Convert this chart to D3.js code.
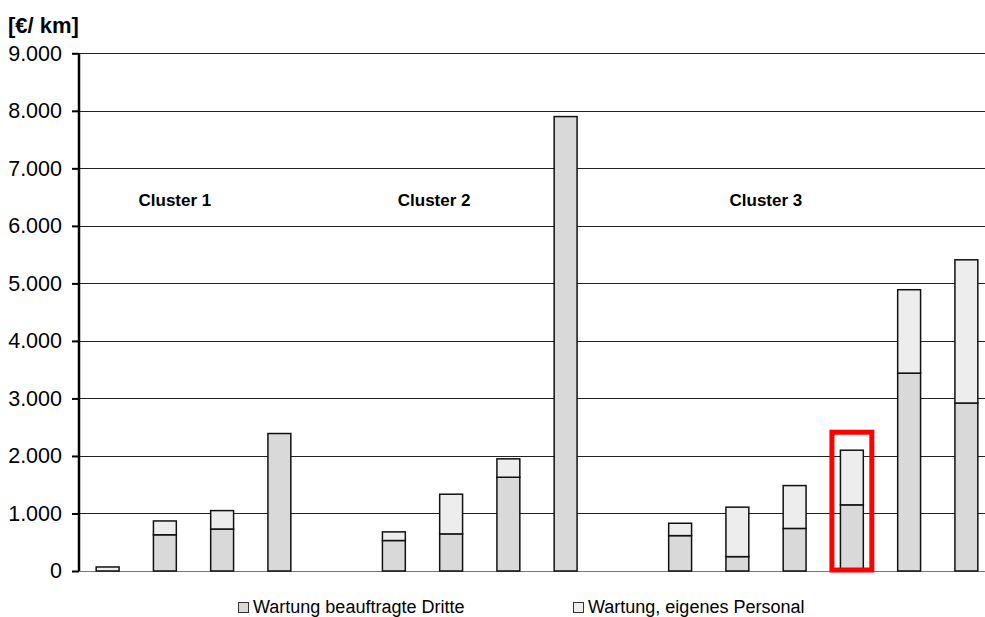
<!DOCTYPE html>
<html>
<head>
<meta charset="utf-8">
<script src="https://cdn.jsdelivr.net/npm/d3@7/dist/d3.min.js"></script>
<style>
  html, body { margin: 0; padding: 0; background: #fff; }
  svg { display: block; font-family: Arial, "Liberation Sans", sans-serif; }
</style>
</head>
<body>
<svg id="chart" width="985" height="617"></svg>
<script>
// ---- data ----
const categories = ["1a","1b","1c","1d","gap1","2a","2b","2c","2d","gap2","3a","3b","3c","3d","3e","3f"];
const beauftragteDritte = [0, 630, 730, 2390, null, 530, 645, 1630, 7900, null, 615, 250, 740, 1150, 3440, 2920];
const eigenesPersonal   = [70, 240, 320, 0, null, 150, 690, 320, 0, null, 215, 860, 745, 950, 1450, 2490];
const seriesNames = ["Wartung beauftragte Dritte", "Wartung, eigenes Personal"];
const yTicks = [0,1000,2000,3000,4000,5000,6000,7000,8000,9000];
const clusterNames = ["Cluster 1", "Cluster 2", "Cluster 3"];
const clusterAnchors = ["1b", "2b", "3b"];
const highlighted = "3d";
const unitLabel = "[€/ km]";

// ---- layout ----
const W = 985, H = 617;
const plotLeft = 79, plotRight = 995, plotTop = 53.3, plotBottom = 571;
const svg = d3.select("#chart");

const x = d3.scaleBand().domain(categories).range([plotLeft, plotRight]).paddingInner(0.6).paddingOuter(0.3);
const y = d3.scaleLinear().domain([0, 9000]).range([plotBottom, plotTop]);
const de = d3.formatLocale({decimal: ",", thousands: ".", grouping: [3], currency: ["", "€"]});
const fmt = de.format(",");

// gridlines
svg.append("g").selectAll("line").data(yTicks.filter(d => d > 0)).join("line")
  .attr("x1", plotLeft).attr("x2", W)
  .attr("y1", d => Math.round(y(d)) + 0.5).attr("y2", d => Math.round(y(d)) + 0.5)
  .attr("stroke", "#222").attr("stroke-width", 1);
// baseline
svg.append("line").attr("x1", plotLeft).attr("x2", W)
  .attr("y1", Math.round(y(0)) + 0.5).attr("y2", Math.round(y(0)) + 0.5)
  .attr("stroke", "#777").attr("stroke-width", 1);

// data rows
const rows = categories.map((c, i) => ({cat: c, a: beauftragteDritte[i], b: eigenesPersonal[i]}))
  .filter(r => r.a !== null);

const fills = ["#d9d9d9", "#ededed"];
const g = svg.append("g");
rows.forEach(r => {
  const x0 = x(r.cat), bw = x.bandwidth();
  if (r.a > 0) {
    g.append("rect").attr("x", x0).attr("width", bw)
      .attr("y", y(r.a)).attr("height", y(0) - y(r.a))
      .attr("fill", fills[0]).attr("stroke", "#111").attr("stroke-width", 1.5);
  }
  if (r.b > 0) {
    g.append("rect").attr("x", x0).attr("width", bw)
      .attr("y", y(r.a + r.b)).attr("height", y(r.a) - y(r.a + r.b))
      .attr("fill", fills[1]).attr("stroke", "#111").attr("stroke-width", 1.5);
  }
});

// y axis
const yAxis = d3.axisLeft(y).tickValues(yTicks).tickFormat(fmt).tickSize(7).tickPadding(10);
const ya = svg.append("g").attr("transform", `translate(${plotLeft},0)`).call(yAxis);
ya.select(".domain").attr("stroke", "#000").attr("stroke-width", 2.5).attr("d", `M0,${y(9000)}V${y(0)}`);
ya.selectAll(".tick line").attr("stroke", "#000").attr("stroke-width", 2);
ya.selectAll(".tick text").attr("font-size", 21.5).attr("fill", "#000")
  .attr("font-family", "Arial, 'Liberation Sans', sans-serif");

// unit label
svg.append("text").attr("x", 8).attr("y", 33).attr("font-size", 22).attr("font-weight", "bold")
  .text(unitLabel);

// cluster labels
const clusterOffsets = [10, -17, 28.5];
clusterNames.forEach((n, i) => {
  svg.append("text")
    .attr("x", x(clusterAnchors[i]) + x.bandwidth() / 2 + clusterOffsets[i])
    .attr("y", y(6340))
    .attr("text-anchor", "middle").attr("font-size", 17).attr("font-weight", "bold")
    .text(n);
});

// highlight box
const hx = x(highlighted), hi = categories.indexOf(highlighted);
const htot = beauftragteDritte[hi] + eigenesPersonal[hi];
svg.append("rect")
  .attr("x", hx - 8.5).attr("width", x.bandwidth() + 17)
  .attr("y", y(htot) - 18).attr("height", (y(0) - 1) - (y(htot) - 18))
  .attr("fill", "none").attr("stroke", "#ff0000").attr("stroke-width", 5);

// legend
const legendX = [238, 573];
seriesNames.forEach((n, i) => {
  svg.append("rect").attr("x", legendX[i] + 0.5).attr("y", 602.5).attr("width", 10).attr("height", 10)
    .attr("fill", fills[i]).attr("stroke", "#333").attr("stroke-width", 1);
  svg.append("text").attr("x", legendX[i] + 15).attr("y", 613).attr("font-size", 18).text(n);
});
</script>
</body>
</html>
